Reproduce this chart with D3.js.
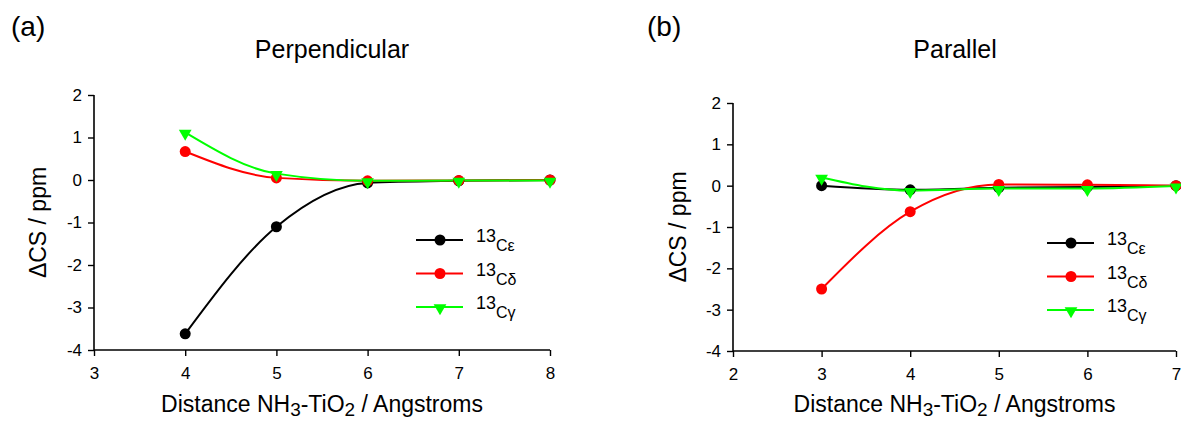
<!DOCTYPE html>
<html>
<head>
<meta charset="utf-8">
<script src="https://cdn.jsdelivr.net/npm/d3@7"></script>
<style>
  body { margin: 0; background: #fff; }
  text { font-family: "Liberation Sans", Arial, sans-serif; fill: #000; }
</style>
</head>
<body>
<div id="chart"></div>
<script>
// data
var seriesNames = ["13C\u03b5", "13C\u03b4", "13C\u03b3"];
var seriesLabels = ["C\u03b5", "C\u03b4", "C\u03b3"];
var colors = ["#000000", "#ff0000", "#00ff00"];

var perpX = [4, 5, 6, 7, 8];
var perpCe = [-3.62, -1.1, -0.07, -0.02, 0.0];
var perpCd = [0.67, 0.05, -0.02, -0.01, 0.0];
var perpCg = [1.12, 0.15, -0.02, -0.01, -0.01];

var paraX = [3, 4, 5, 6, 7];
var paraCe = [0.0, -0.1, -0.05, -0.03, 0.0];
var paraCd = [-2.5, -0.63, 0.03, 0.02, 0.0];
var paraCg = [0.2, -0.12, -0.07, -0.07, -0.01];

var yTicks = [-4, -3, -2, -1, 0, 1, 2];

var W = 1181, H = 421;

var svg = d3.select("#chart").append("svg")
    .attr("width", W)
    .attr("height", H);

var panels = [
    {tag: "(a)", tagX: 11, title: "Perpendicular", titleX: 332,
     left: 94, right: 550, top: 95, bottom: 350, xDomain: [3, 8],
     xs: perpX, ys: [perpCe, perpCd, perpCg],
     ylabX: 46, legX: 416, legY: 240},
    {tag: "(b)", tagX: 647, title: "Parallel", titleX: 955,
     left: 733, right: 1176, top: 103, bottom: 351, xDomain: [2, 7],
     xs: paraX, ys: [paraCe, paraCd, paraCg],
     ylabX: 686, legX: 1047, legY: 243}
];

panels.forEach(function(p) {
    var x = d3.scaleLinear().domain(p.xDomain).range([p.left, p.right]);
    var y = d3.scaleLinear().domain([-4, 2]).range([p.bottom, p.top]);

    svg.append("text")
        .attr("x", p.tagX).attr("y", 36)
        .style("font-size", "28px")
        .text(p.tag);

    svg.append("text")
        .attr("x", p.titleX).attr("y", 58)
        .attr("text-anchor", "middle")
        .style("font-size", "25px")
        .text(p.title);

    //********** AXES ************
    var xAxis = d3.axisBottom(x)
        .ticks(5)
        .tickSize(6)
        .tickFormat(function(d) { return String(d); });
    var yAxis = d3.axisLeft(y)
        .tickValues(yTicks)
        .tickSize(6)
        .tickFormat(function(d) { return d < 0 ? "-" + Math.abs(d) : String(d); });

    var gx = svg.append("g")
        .attr("transform", "translate(0," + p.bottom + ")")
        .call(xAxis);
    gx.select(".domain").attr("d", "M" + p.left + ",0H" + p.right)
        .attr("stroke-width", 1.6);
    gx.selectAll(".tick line").attr("y2", 6).attr("stroke-width", 1.4);
    gx.selectAll(".tick text").attr("y", 17)
        .style("font-size", "17px").style("font-family", "Liberation Sans, Arial, sans-serif");

    var gy = svg.append("g")
        .attr("transform", "translate(" + p.left + ",0)")
        .call(yAxis);
    gy.select(".domain").attr("d", "M0," + p.top + "V" + p.bottom)
        .attr("stroke-width", 1.6);
    gy.selectAll(".tick line").attr("x2", -6).attr("stroke-width", 1.4);
    gy.selectAll(".tick text").attr("x", -12)
        .style("font-size", "17px").style("font-family", "Liberation Sans, Arial, sans-serif");

    // axis titles
    var xl = svg.append("text")
        .attr("x", (p.left + p.right) / 2).attr("y", 412)
        .attr("text-anchor", "middle")
        .style("font-size", "23px");
    xl.append("tspan").text("Distance NH");
    xl.append("tspan").attr("dy", 4).style("font-size", "19px").text("3");
    xl.append("tspan").attr("dy", -4).text("-TiO");
    xl.append("tspan").attr("dy", 4).style("font-size", "19px").text("2");
    xl.append("tspan").attr("dy", -4).text(" / Angstroms");

    svg.append("text")
        .attr("transform", "translate(" + p.ylabX + "," + ((p.top + p.bottom) / 2) + ") rotate(-90)")
        .attr("text-anchor", "middle")
        .style("font-size", "23px")
        .text("\u0394CS / ppm");

    var line = d3.line()
        .curve(d3.curveMonotoneX)
        .x(function(d) { return x(d[0]); })
        .y(function(d) { return y(d[1]); });

    p.ys.forEach(function(vals, i) {
        var pts = p.xs.map(function(v, k) { return [v, vals[k]]; });
        svg.append("path")
            .attr("d", line(pts))
            .attr("fill", "none")
            .attr("stroke", colors[i])
            .attr("stroke-width", 2);
    });

    p.ys.forEach(function(vals, i) {
        var pts = p.xs.map(function(v, k) { return [v, vals[k]]; });
        drawMarker(svg.append("g"), pts.map(function(d) { return [x(d[0]), y(d[1])]; }), i);
    });

    // legend
    var leg = svg.selectAll(null)
        .data(seriesNames)
        .enter().append("g")
        .attr("transform", function(d, i) { return "translate(" + p.legX + "," + (p.legY + i * 33.5) + ")"; });

    leg.append("line")
        .attr("x1", 0).attr("x2", 47)
        .attr("stroke", function(d, i) { return colors[i]; })
        .attr("stroke-width", 2);

    leg.each(function(d, i) {
        drawMarker(d3.select(this), [[24, 0]], i);
    });

    var lt = leg.append("text")
        .attr("x", 60).attr("y", 2);
    lt.append("tspan").style("font-size", "18px").text("13");
    lt.append("tspan").attr("dy", 9).style("font-size", "16px").text(function(d, i) { return seriesLabels[i]; });
});

function drawMarker(g, pts, i) {
    if (i < 2) {
        g.selectAll("circle").data(pts).enter().append("circle")
            .attr("cx", function(d) { return d[0]; })
            .attr("cy", function(d) { return d[1]; })
            .attr("r", 5.5)
            .attr("fill", colors[i]);
    } else {
        var tri = d3.symbol().type(d3.symbolTriangle).size(70);
        g.selectAll("path").data(pts).enter().append("path")
            .attr("d", tri)
            .attr("transform", function(d) { return "translate(" + d[0] + "," + (d[1] + 1) + ") rotate(180)"; })
            .attr("fill", colors[i]);
    }
}
</script>
</body>
</html>
